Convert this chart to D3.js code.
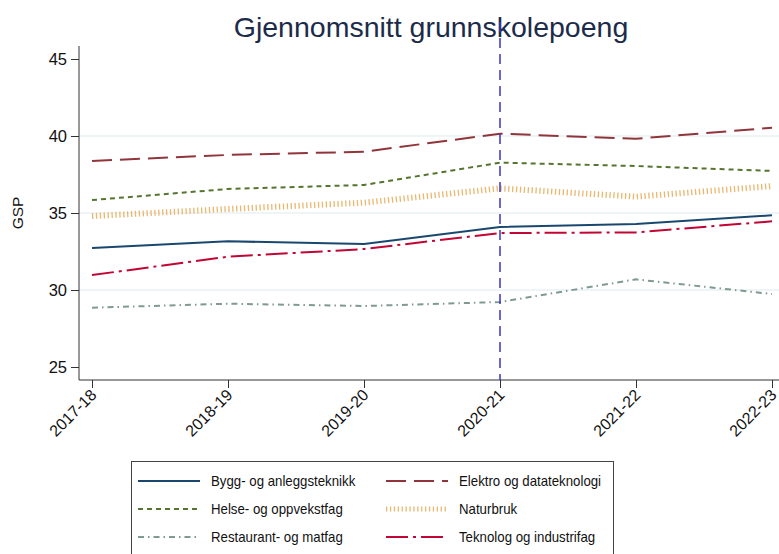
<!DOCTYPE html>
<html>
  <head>
    <script src="https://d3js.org/d3.v7.min.js"></script>
    <style>
      body { margin: 0; background: #fff; }
      svg { display: block; font-family: "Liberation Sans", Arial, sans-serif; }
    </style>
  </head>
  <body>
    <svg width="779" height="554"></svg>
    <script>
      const years = ["2017-18", "2018-19", "2019-20", "2020-21", "2021-22", "2022-23"];
      const yTicks = [25, 30, 35, 40, 45];
      const gridTicks = [30, 35, 40];
      const markerYear = "2020-21";

      const bygg = [32.73, 33.16, 32.99, 34.09, 34.29, 34.85];
      const elektro = [38.38, 38.77, 38.98, 40.15, 39.82, 40.54];
      const helse = [35.84, 36.56, 36.82, 38.27, 38.05, 37.73];
      const naturbruk = [34.8, 35.26, 35.67, 36.6, 36.06, 36.75];
      const restaurant = [28.85, 29.11, 28.96, 29.22, 30.69, 29.74];
      const teknolog = [30.97, 32.16, 32.66, 33.7, 33.74, 34.46];

      const series = [
        { name: "Bygg- og anleggsteknikk", values: bygg, color: "#1a476f", width: 2, dash: null },
        { name: "Elektro og datateknologi", values: elektro, color: "#90353b", width: 2, dash: "20,8" },
        { name: "Helse- og oppvekstfag", values: helse, color: "#55752f", width: 2, dash: "5,4" },
        { name: "Naturbruk", values: naturbruk, color: "#eab76e", width: 6, dash: "1.3,2.6" },
        { name: "Restaurant- og matfag", values: restaurant, color: "#7f9a91", width: 2, dash: "6,4,1.5,4" },
        { name: "Teknolog og industrifag", values: teknolog, color: "#c10534", width: 2, dash: "22,5,3,5" }
      ];

      const svg = d3.select("svg");
      const plotTop = 46, plotBottom = 380, plotLeft = 79, plotRight = 779;

      const x = d3.scalePoint().domain(years).range([92, 772]);
      const y = d3.scaleLinear().domain([25, 45]).range([367, 59]);

      // title
      svg.append("text")
        .attr("x", 431).attr("y", 37)
        .attr("text-anchor", "middle")
        .attr("font-size", 28.5)
        .attr("fill", "#1c2b4a")
        .text("Gjennomsnitt grunnskolepoeng");

      // gridlines
      svg.append("g").selectAll("line")
        .data(gridTicks)
        .join("line")
        .attr("x1", plotLeft).attr("x2", plotRight)
        .attr("y1", d => y(d)).attr("y2", d => y(d))
        .attr("stroke", "#eaf1f3").attr("stroke-width", 1.5);

      // y axis
      const yAxis = svg.append("g")
        .attr("transform", `translate(${plotLeft},0)`)
        .call(d3.axisLeft(y).tickValues(yTicks).tickSize(8).tickPadding(4));
      yAxis.select(".domain").remove();
      yAxis.selectAll("text").attr("font-size", 16.5).attr("fill", "#111").attr("font-family", "Liberation Sans, Arial, sans-serif");
      yAxis.selectAll("line").attr("stroke", "#333");
      svg.append("line")
        .attr("x1", plotLeft).attr("x2", plotLeft)
        .attr("y1", plotTop).attr("y2", plotBottom)
        .attr("stroke", "#333");

      // x axis
      const xAxis = svg.append("g")
        .attr("transform", `translate(0,${plotBottom})`)
        .call(d3.axisBottom(x).tickSize(8).tickPadding(4));
      xAxis.select(".domain").remove();
      xAxis.selectAll("line").attr("stroke", "#333");
      xAxis.selectAll("text")
        .attr("font-size", 16).attr("fill", "#111")
        .attr("font-family", "Liberation Sans, Arial, sans-serif")
        .attr("text-anchor", "end")
        .attr("x", 0).attr("y", 0)
        .attr("dy", "0.35em")
        .attr("transform", "translate(1,12) rotate(-45)");
      svg.append("line")
        .attr("x1", plotLeft).attr("x2", plotRight)
        .attr("y1", plotBottom).attr("y2", plotBottom)
        .attr("stroke", "#333");

      // y label
      svg.append("text")
        .attr("transform", "translate(23,213) rotate(-90)")
        .attr("text-anchor", "middle")
        .attr("font-size", 15.5)
        .attr("fill", "#111")
        .text("GSP");

      // lines
      const line = d3.line()
        .x((d, i) => x(years[i]))
        .y(d => y(d));

      svg.append("g").selectAll("path")
        .data(series)
        .join("path")
        .attr("d", d => line(d.values))
        .attr("fill", "none")
        .attr("stroke", d => d.color)
        .attr("stroke-width", d => d.width)
        .attr("stroke-dasharray", d => d.dash);

      // vertical marker
      svg.append("line")
        .attr("x1", x(markerYear)).attr("x2", x(markerYear))
        .attr("y1", 22).attr("y2", plotBottom)
        .attr("stroke", "#3535c8").attr("stroke-width", 1.5)
        .attr("stroke-dasharray", "10,6");

      // legend
      const legend = svg.append("g");
      legend.append("rect")
        .attr("x", 131.5).attr("y", 461.5)
        .attr("width", 482).attr("height", 110)
        .attr("fill", "#fff").attr("stroke", "#444");

      const rowY = [481, 509, 537];
      const colX = [138, 386];
      const item = legend.selectAll("g.item")
        .data(series)
        .join("g")
        .attr("class", "item")
        .attr("transform", (d, i) => `translate(${colX[i % 2]},${rowY[Math.floor(i / 2)]})`);
      item.append("line")
        .attr("x1", 0).attr("x2", 62)
        .attr("stroke", d => d.color)
        .attr("stroke-width", d => d.width === 6 ? 5 : 2)
        .attr("stroke-dasharray", d => d.dash);
      item.append("text")
        .attr("transform", "translate(73,0) scale(0.92,1)")
        .attr("dy", "0.35em")
        .attr("font-size", 14.4)
        .attr("fill", "#111")
        .text(d => d.name);
    </script>
  </body>
</html>
